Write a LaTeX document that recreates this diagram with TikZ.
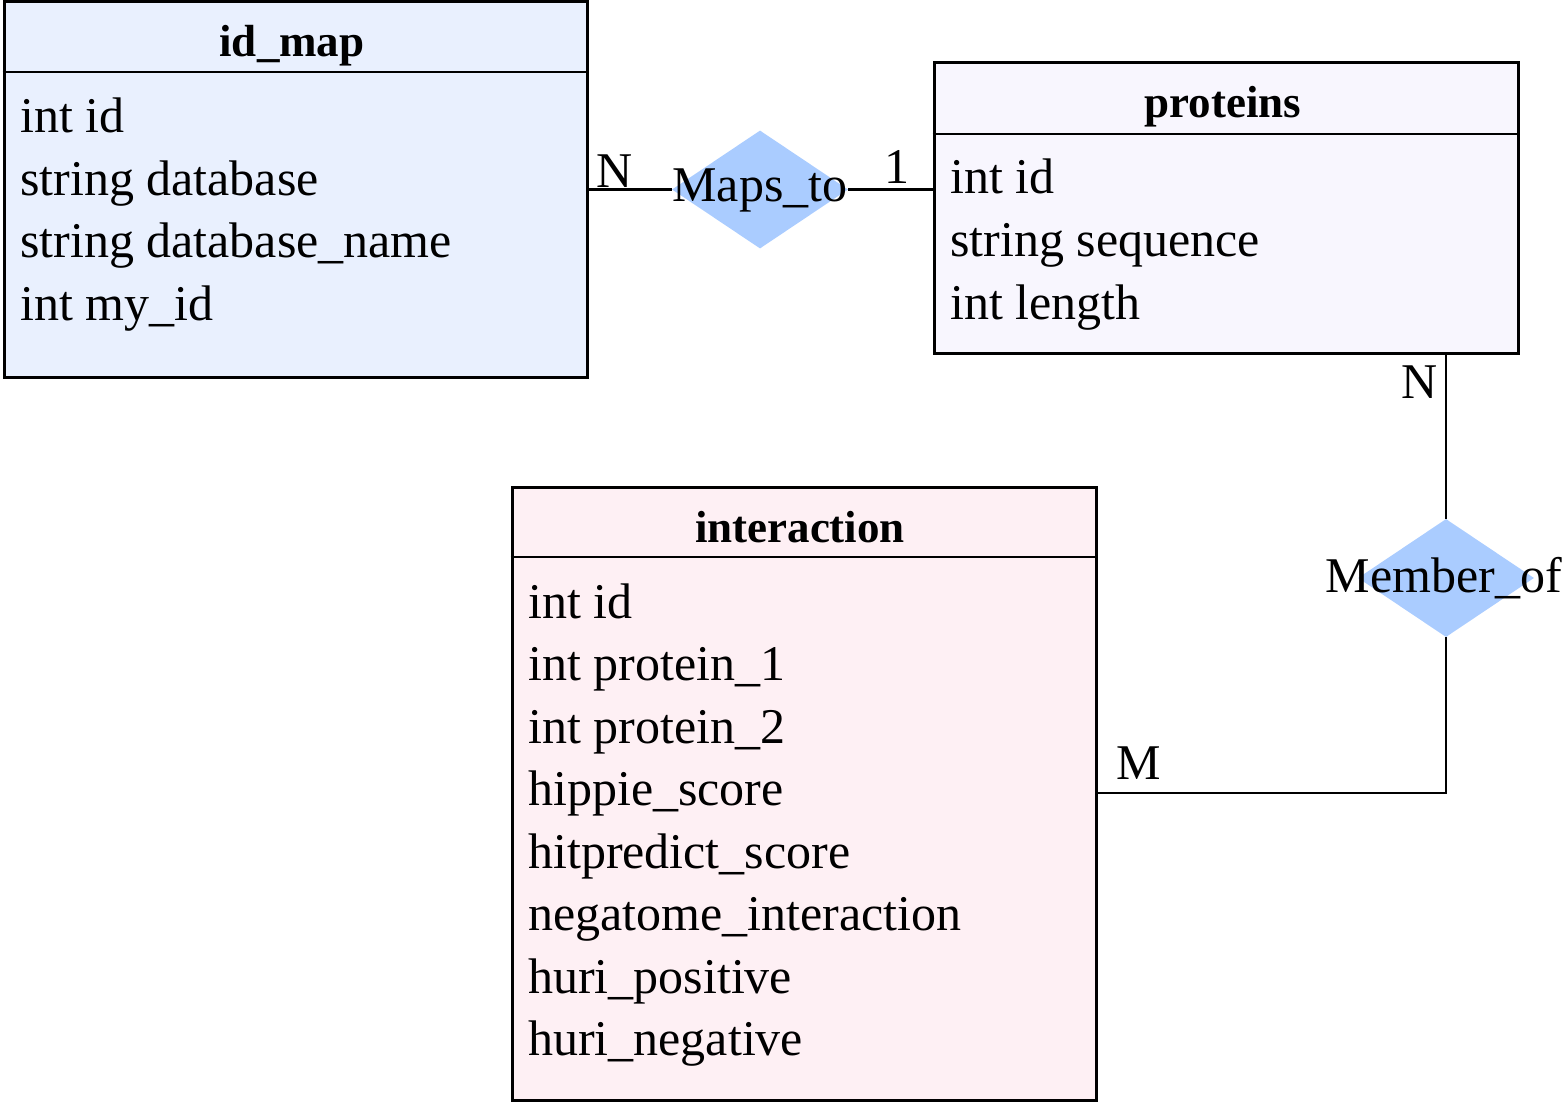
\documentclass[tikz,border=0pt]{standalone}
\usepackage{fontspec}
\setmainfont{Liberation Serif}
\usetikzlibrary{shapes.geometric}
\definecolor{idfill}{HTML}{E9F0FE}
\definecolor{protfill}{HTML}{F8F6FE}
\definecolor{interfill}{HTML}{FEF0F4}
\definecolor{relfill}{HTML}{AACCFF}
\tikzset{
  entity/.style={draw=black, line width=3pt, rectangle, inner sep=0pt},
  attr/.style={anchor=base west, inner sep=0pt, font=\fontsize{50}{60}\selectfont},
  head/.style={anchor=base, inner sep=0pt, font=\fontsize{45}{54}\selectfont\bfseries},
  rel/.style={diamond, fill=relfill, draw=none, inner sep=0pt, minimum width=176pt, minimum height=118pt},
  rellabel/.style={anchor=base, inner sep=0pt, font=\fontsize{50}{60}\selectfont},
  card/.style={anchor=base, inner sep=0pt, font=\fontsize{50}{60}\selectfont},
  conn/.style={line width=2.5pt},
  sep/.style={line width=2.5pt}
}
\begin{document}
\begin{tikzpicture}[x=1pt,y=-1pt]
\useasboundingbox (0,0) rectangle (1566,1102);

% entities
\node[entity, fill=idfill, minimum width=583pt, minimum height=375pt] (idmap) at (295.5,189.5) {};
\node[entity, fill=protfill, minimum width=584pt, minimum height=290pt] (proteins) at (1226,208) {};
\node[entity, fill=interfill, minimum width=584pt, minimum height=613pt] (interaction) at (804,793.5) {};

% header separators
\draw[sep] (idmap.west |- 0,72) -- (idmap.east |- 0,72);
\draw[sep] (proteins.west |- 0,134) -- (proteins.east |- 0,134);
\draw[sep] (interaction.west |- 0,557) -- (interaction.east |- 0,557);

% id_map
\node[head] (idmapH) at (292,57) {id\_map};
\node[attr] (idmapA1) at (20,133) {int id};
\node[attr] (idmapA2) at (20,195.5) {string database};
\node[attr] (idmapA3) at (20,258) {string database\_name};
\node[attr] (idmapA4) at (20,320) {int my\_id};

% proteins
\node[head] (protH) at (1223,118) {proteins};
\node[attr] (protA1) at (950,194) {int id};
\node[attr] (protA2) at (950,256.5) {string sequence};
\node[attr] (protA3) at (950,319) {int length};

% interaction
\node[head] (interH) at (800,542) {interaction};
\node[attr] (interA1) at (528,618) {int id};
\node[attr] (interA2) at (528,680.5) {int protein\_1};
\node[attr] (interA3) at (528,743) {int protein\_2};
\node[attr] (interA4) at (528,805.5) {hippie\_score};
\node[attr] (interA5) at (528,868) {hitpredict\_score};
\node[attr] (interA6) at (528,930.5) {negatome\_interaction};
\node[attr] (interA7) at (528,993) {huri\_positive};
\node[attr] (interA8) at (528,1055.5) {huri\_negative};

% relationships
\node[rel] (mapsto) at (760,189.5) {};
\node[rel] (member) at (1446,578) {};

% connectors
\draw[conn] (mapsto.west -| idmap.east) -- (mapsto.west);
\draw[conn] (mapsto.east) -- (mapsto.east -| proteins.west);
\draw[conn] (member.north |- proteins.south) -- (member.north);
\coordinate (mcorner) at (1446,793);
\draw[conn] (member.south) -- (mcorner) -- (mcorner -| interaction.east);

% relationship labels
\node[rellabel] (mapstoL) at (760,202) {Maps\_to};
\node[rellabel] (memberL) at (1444,592) {Member\_of};

% cardinalities
\node[card] (cardN1) at (615,188) {N};
\node[card] (card1) at (897,184) {1};
\node[card] (cardN2) at (1420,398) {N};
\node[card] (cardM) at (1139,779) {M};
\end{tikzpicture}
\end{document}
